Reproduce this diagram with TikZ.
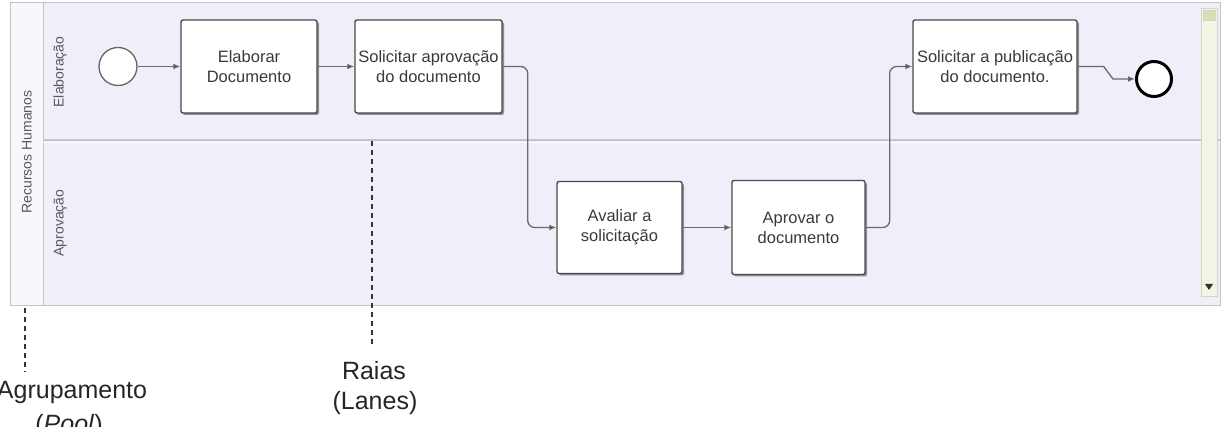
\documentclass[tikz,border=0pt]{standalone}
\usepackage{fontspec}
\setmainfont{Liberation Sans}
\usetikzlibrary{shadows,arrows.meta}
\definecolor{lanebg}{HTML}{EFEFF9}
\definecolor{poolhead}{HTML}{F8F8FC}
\definecolor{poolline}{HTML}{C4C4CC}
\definecolor{boxline}{HTML}{4A4A4A}
\definecolor{flowline}{HTML}{6A6A6A}
\definecolor{boxtext}{HTML}{3A3A3A}
\definecolor{scrollbg}{HTML}{F2F4E4}
\definecolor{scrollln}{HTML}{D2D6C2}
\begin{document}
\begin{tikzpicture}[x=1pt,y=-1pt,
  task/.style={rectangle, rounded corners=2pt, draw=boxline, line width=1.4pt, fill=white,
    align=center, text=boxtext, font=\fontsize{16.5}{20}\selectfont, inner sep=1pt,
    drop shadow={shadow xshift=2pt, shadow yshift=-2pt, opacity=0.4, fill=black}},
  flow/.style={draw=flowline, line width=1.3pt, -{Latex[length=7pt,width=6pt,fill=black!85]}},
  lanelabel/.style={rotate=90, text=black!65, font=\fontsize{14}{16}\selectfont},
  annot/.style={text=black!85, font=\fontsize{25}{28}\selectfont, anchor=base},
  pointer/.style={draw=black!80, line width=1.4pt, dash pattern=on 5pt off 4pt}
]
\useasboundingbox (0,0) rectangle (1227,427);
\fill[white] (0,0) rectangle (1227,427);
% pool
\fill[lanebg] (10,3) rectangle (1220,306);
\fill[poolhead] (10,3) rectangle (43,306);
\draw[poolline, line width=1pt] (10,3) rectangle (1220,306);
\draw[poolline, line width=1pt] (43,3) -- (43,306);
\draw[poolline, line width=1.6pt] (43,140) -- (1220,140);
\draw[white, line width=0.6pt] (43,142) -- (1220,142);
\node[lanelabel] (poolname) at (27,152) {Recursos Humanos};
\node[lanelabel] (lane1) at (60,72) {Elaboração};
\node[lanelabel] (lane2) at (60,223) {Aprovação};
% scrollbar
\draw[scrollln, fill=scrollbg] (1201,8) rectangle (1217,296);
\draw[scrollln, fill=scrollbg!80!olive] (1203,10) rectangle (1215,20);
\fill[black!80] (1205,284) -- (1213,284) -- (1209,290) -- cycle;
% nodes
\node[circle, draw=black!60, line width=1.3pt, fill=white, minimum size=38pt, inner sep=0pt] (start) at (118,66.5) {};
\node[task, minimum width=136pt, minimum height=93pt] (elab) at (249,66.5) {Elaborar\\Documento};
\node[task, minimum width=147pt, minimum height=93pt] (solap) at (428.5,66.5) {Solicitar aprovação\\do documento};
\node[task, minimum width=125pt, minimum height=92pt] (aval) at (619.5,227.5) {Avaliar a\\solicitação};
\node[task, minimum width=133pt, minimum height=94pt] (aprov) at (798.5,227.5) {Aprovar o\\documento};
\node[task, minimum width=164pt, minimum height=93pt] (solpub) at (995,66.5) {Solicitar a publicação\\do documento.};
\node[circle, draw=black, line width=3pt, fill=white, minimum size=35pt, inner sep=0pt] (end) at (1154,79) {};
% flows
\draw[flow] (start) -- (elab);
\draw[flow] (elab) -- (solap);
\draw[flow, rounded corners=7pt] (solap.east) -- ++(25,0) |- (aval.west);
\draw[flow] (aval) -- (aprov);
\draw[flow, rounded corners=7pt] (aprov.east) -- ++(24,0) |- (solpub.west);
\draw[flow] (solpub.east) -- ++(26,0) -- ([xshift=-22pt]end.west) -- (end.west);
% annotations
\coordinate (poolptA) at (25,308);
\coordinate (poolptB) at (25,372);
\coordinate (laneptA) at (372,141);
\coordinate (laneptB) at (372,346);
\draw[pointer] (poolptA) -- (poolptB);
\draw[pointer] (laneptA) -- (laneptB);
\node[annot] (agr) at (72,399) {Agrupamento};
\node[annot] (pool) at (69,433) {(\textit{Pool})};
\node[annot] (raias) at (374,380) {Raias};
\node[annot] (lanes) at (375,410) {(Lanes)};
\end{tikzpicture}
\end{document}
